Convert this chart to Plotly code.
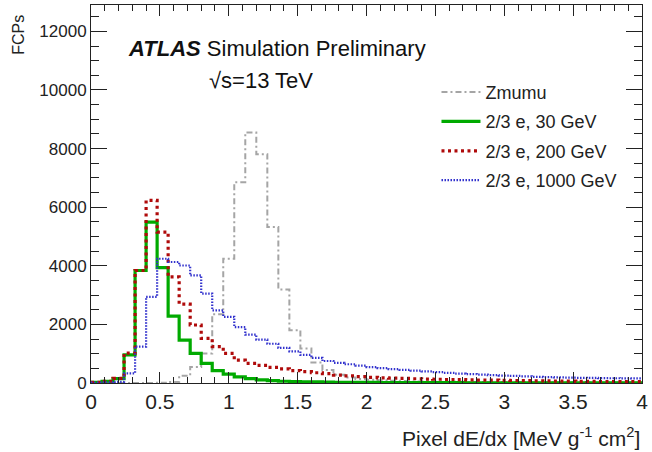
import numpy as np
import plotly.graph_objects as go

# 50 bins of width 0.08 from 0 to 4
x_min, x_max, n_bins = 0.0, 4.0, 50

zmumu = [0, 0, 0, 0, 0, 0, 5, 30, 250, 550,
         1010, 2350, 4240, 6850, 8550, 7810, 5320, 3190, 1800, 1180,
         700, 440, 280, 190, 140, 110, 90, 75, 65, 55,
         50, 45, 42, 40, 38, 35, 33, 31, 30, 28,
         27, 26, 25, 24, 23, 22, 21, 20, 20, 19]

e30 = [20, 60, 150, 960, 3840, 5490, 3940, 2280, 1460, 1010,
       670, 420, 300, 210, 150, 110, 80, 60, 50, 40,
       35, 30, 25, 22, 20, 18, 16, 15, 14, 13,
       12, 11, 10, 10, 9, 9, 8, 8, 7, 7,
       6, 6, 6, 5, 5, 5, 5, 4, 4, 4]

e200 = [20, 60, 160, 1020, 3840, 6230, 5150, 3620, 2690, 1980,
        1520, 1240, 1010, 780, 670, 600, 530, 480, 420, 385,
        350, 320, 270, 240, 215, 190, 175, 165, 155, 145,
        135, 128, 120, 112, 106, 100, 95, 90, 85, 80,
        75, 70, 66, 62, 58, 55, 52, 50, 48, 46]

e1000 = [10, 20, 40, 330, 1240, 2940, 4240, 4130, 4010, 3670,
         3050, 2480, 2260, 1910, 1650, 1480, 1340, 1200, 1080, 960,
         860, 750, 690, 640, 590, 545, 510, 475, 450, 420,
         395, 370, 345, 320, 300, 285, 270, 255, 240, 225,
         212, 200, 192, 185, 178, 172, 166, 162, 158, 155]

series_names = ["Zmumu", "2/3 e, 30 GeV", "2/3 e, 200 GeV", "2/3 e, 1000 GeV"]
x_tick_vals = [0, 0.5, 1, 1.5, 2, 2.5, 3, 3.5, 4]
x_tick_text = ["0", "0.5", "1", "1.5", "2", "2.5", "3", "3.5", "4"]
y_tick_vals = [0, 2000, 4000, 6000, 8000, 10000, 12000]

edges = np.linspace(x_min, x_max, n_bins + 1)

styles = [
    dict(color="rgb(165,165,165)", width=2, dash="6px,3px,2px,3px"),
    dict(color="rgb(0,170,0)", width=3.2, dash="solid"),
    dict(color="rgb(175,10,10)", width=3.2, dash="3px,3.5px"),
    dict(color="rgb(50,50,205)", width=2.2, dash="1.5px,1.5px"),
]

fig = go.Figure()
for name, vals, st in zip(series_names, [zmumu, e30, e200, e1000], styles):
    y = list(vals) + [vals[-1]]
    fig.add_trace(go.Scatter(
        x=edges, y=y, mode="lines", name=name, line_shape="hv",
        line=st, legendgroup=name,
    ))

font_family = "Liberation Sans, Arial, Helvetica, sans-serif"
y_max = 12900

fig.update_layout(
    width=652, height=452,
    margin=dict(l=91, r=6, t=4, b=69),
    paper_bgcolor="white", plot_bgcolor="white",
    font=dict(family=font_family, color="#222", size=17),
    showlegend=True,
    legend=dict(x=0.627, y=0.818, xanchor="left", yanchor="top",
                bgcolor="rgba(0,0,0,0)", font=dict(size=18, color="#222"),
                traceorder="grouped", tracegroupgap=3, itemwidth=39),
    xaxis=dict(range=[x_min, x_max], tickvals=x_tick_vals, ticktext=x_tick_text,
               ticks="inside", ticklen=11, tickwidth=1, tickcolor="#222",
               showline=True, linecolor="#222", linewidth=1, mirror="allticks",
               showgrid=False, zeroline=False, tickfont=dict(size=21),
               ticklabeloverflow="allow",
               minor=dict(dtick=0.1, ticks="inside", ticklen=6, tickcolor="#222", showgrid=False)),
    yaxis=dict(range=[0, y_max], tickvals=y_tick_vals, tickformat="d",
               ticks="inside", ticklen=16, tickwidth=1, tickcolor="#222",
               showline=True, linecolor="#222", linewidth=1, mirror="allticks",
               showgrid=False, zeroline=False, tickfont=dict(size=17),
               ticklabeloverflow="allow",
               minor=dict(dtick=500, ticks="inside", ticklen=8, tickcolor="#222", showgrid=False)),
)

fig.add_annotation(xref="paper", yref="paper", x=1.0, y=-0.142, xanchor="right", yanchor="middle",
                   text="Pixel dE/dx [MeV g<sup>-1</sup> cm<sup>2</sup>]", showarrow=False,
                   font=dict(size=21, color="#222"))
fig.add_annotation(xref="paper", yref="paper", x=-0.132, y=0.98, xanchor="center", yanchor="top",
                   text="FCPs", textangle=-90, showarrow=False, font=dict(size=16, color="#222"))
fig.add_annotation(xref="paper", yref="paper", x=0.064, y=0.884, xanchor="left", yanchor="middle",
                   text="<b><i>ATLAS</i></b> Simulation Preliminary", showarrow=False,
                   font=dict(size=22, color="#111"))
fig.add_annotation(xref="paper", yref="paper", x=0.21, y=0.80, xanchor="left", yanchor="middle",
                   text="√s=13 TeV", showarrow=False, font=dict(size=22, color="#111"))

fig.write_html("out.html")
